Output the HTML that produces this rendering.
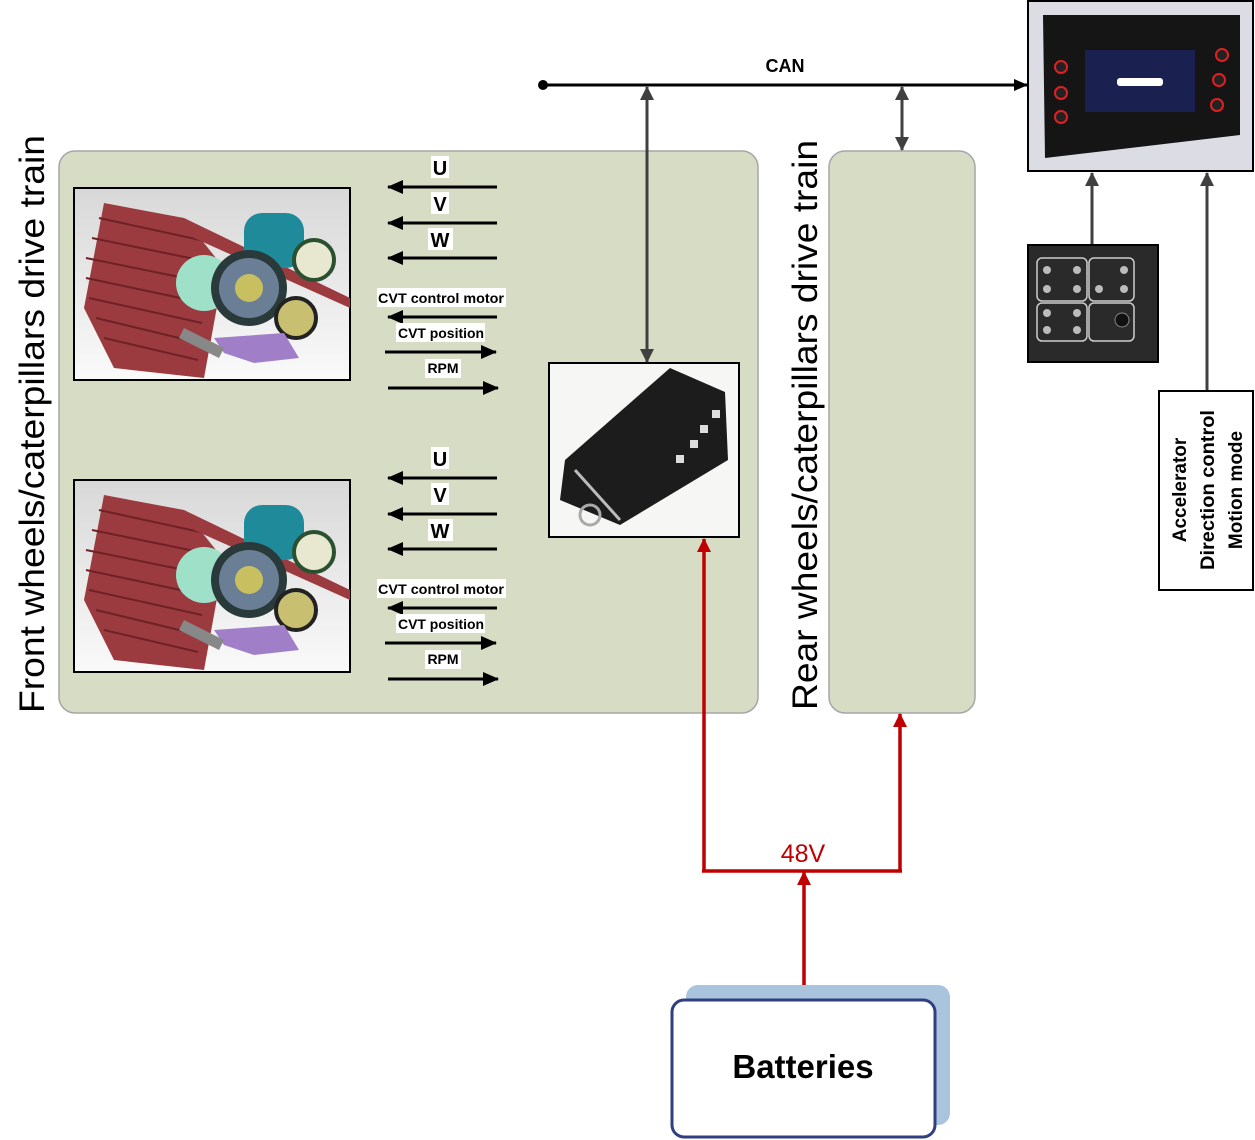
<!DOCTYPE html>
<html><head><meta charset="utf-8"><style>
html,body{margin:0;padding:0;background:#fff}
svg{display:block;font-family:"Liberation Sans",sans-serif}
</style></head><body>
<svg width="1255" height="1140" viewBox="0 0 1255 1140" xmlns="http://www.w3.org/2000/svg">
<defs>
<marker id="ab" markerWidth="14" markerHeight="12" refX="13" refY="6" orient="auto" markerUnits="userSpaceOnUse"><path d="M0,0 L14,6 L0,12 z" fill="#000"/></marker>
<marker id="ag" markerWidth="14" markerHeight="14" refX="13" refY="7" orient="auto-start-reverse" markerUnits="userSpaceOnUse"><path d="M0,0 L14,7 L0,14 z" fill="#404040"/></marker>
<marker id="ar" markerWidth="14" markerHeight="14" refX="13" refY="7" orient="auto" markerUnits="userSpaceOnUse"><path d="M0,0 L14,7 L0,14 z" fill="#c00000"/></marker>
<marker id="ak" markerWidth="16" markerHeight="14" refX="15" refY="7" orient="auto" markerUnits="userSpaceOnUse"><path d="M0,0 L16,7 L0,14 z" fill="#000"/></marker>
<linearGradient id="bg1" x1="0" y1="0" x2="0" y2="1"><stop offset="0" stop-color="#d8d8d8"/><stop offset="1" stop-color="#fafafa"/></linearGradient>
<g id="drive">
  <rect x="0" y="0" width="276" height="192" fill="url(#bg1)" stroke="#000" stroke-width="2"/>
  <path d="M30,15 L110,30 L150,80 L130,190 L40,180 L10,120 Z" fill="#9b3a3f"/>
  <g stroke="#6e2226" stroke-width="2">
    <line x1="25" y1="30" x2="140" y2="55"/><line x1="18" y1="50" x2="140" y2="75"/><line x1="12" y1="70" x2="135" y2="95"/><line x1="12" y1="90" x2="130" y2="115"/><line x1="15" y1="110" x2="128" y2="135"/><line x1="22" y1="130" x2="126" y2="155"/><line x1="30" y1="150" x2="124" y2="172"/>
  </g>
  <path d="M110,30 L276,110 L276,120 L120,50 Z" fill="#9b3a3f"/>
  <circle cx="130" cy="95" r="28" fill="#9fe0c8"/>
  <rect x="170" y="25" width="60" height="55" rx="18" fill="#1f8a9a"/>
  <circle cx="175" cy="100" r="38" fill="#2a3a3a"/>
  <circle cx="175" cy="100" r="30" fill="#6a7f95"/>
  <circle cx="175" cy="100" r="14" fill="#c8c060"/>
  <circle cx="240" cy="72" r="20" fill="#e8e8d0" stroke="#2a5030" stroke-width="4"/>
  <circle cx="222" cy="130" r="20" fill="#c8c070" stroke="#222" stroke-width="4"/>
  <path d="M140,150 L210,145 L225,170 L180,175 L150,165 Z" fill="#a07ec8"/>
  <path d="M110,140 L150,160 L145,170 L105,150 Z" fill="#888"/>
</g>
</defs>

<rect x="59" y="151" width="699" height="562" rx="16" fill="#d7dcc5" stroke="#a6a6a6" stroke-width="1.5"/>
<rect x="829" y="151" width="146" height="562" rx="16" fill="#d7dcc5" stroke="#a6a6a6" stroke-width="1.5"/>

<text transform="translate(44,424) rotate(-90)" font-size="35" text-anchor="middle" fill="#000" textLength="578" lengthAdjust="spacingAndGlyphs">Front wheels/caterpillars drive train</text>
<text transform="translate(817,425) rotate(-90)" font-size="35" text-anchor="middle" fill="#000" textLength="570" lengthAdjust="spacingAndGlyphs">Rear wheels/caterpillars drive train</text>

<use href="#drive" x="74" y="188"/>
<use href="#drive" x="74" y="480"/>

<g id="sig" font-weight="bold" text-anchor="middle">
  <rect x="431" y="156" width="18" height="22" fill="#fff"/><text x="440" y="175" font-size="20">U</text>
  <line x1="497" y1="187" x2="388" y2="187" stroke="#000" stroke-width="3" marker-end="url(#ak)"/>
  <rect x="431" y="192" width="18" height="22" fill="#fff"/><text x="440" y="211" font-size="20">V</text>
  <line x1="497" y1="223" x2="388" y2="223" stroke="#000" stroke-width="3" marker-end="url(#ak)"/>
  <rect x="428" y="228" width="25" height="22" fill="#fff"/><text x="440" y="247" font-size="20">W</text>
  <line x1="497" y1="258" x2="388" y2="258" stroke="#000" stroke-width="3" marker-end="url(#ak)"/>
  <rect x="377" y="288" width="129" height="19" fill="#fff"/><text x="441" y="303" font-size="14" textLength="126" lengthAdjust="spacingAndGlyphs">CVT control motor</text>
  <line x1="497" y1="317" x2="388" y2="317" stroke="#000" stroke-width="3" marker-end="url(#ak)"/>
  <rect x="396" y="323" width="89" height="19" fill="#fff"/><text x="441" y="338" font-size="14" textLength="86" lengthAdjust="spacingAndGlyphs">CVT position</text>
  <line x1="385" y1="352" x2="496" y2="352" stroke="#000" stroke-width="3" marker-end="url(#ak)"/>
  <rect x="425" y="359" width="36" height="19" fill="#fff"/><text x="443" y="373" font-size="14">RPM</text>
  <line x1="388" y1="388" x2="498" y2="388" stroke="#000" stroke-width="3" marker-end="url(#ak)"/>
</g>
<use href="#sig" x="0" y="291"/>

<rect x="549" y="363" width="190" height="174" fill="#f6f6f4" stroke="#000" stroke-width="2"/>
<path d="M565,460 L670,368 L725,392 L728,460 L620,525 L560,500 Z" fill="#1c1c1c"/>
<path d="M575,470 L620,520" stroke="#bbb" stroke-width="3"/>
<circle cx="590" cy="515" r="10" fill="none" stroke="#aaa" stroke-width="3"/>
<g fill="#ddd"><rect x="690" y="440" width="8" height="8"/><rect x="700" y="425" width="8" height="8"/><rect x="712" y="410" width="8" height="8"/><rect x="676" y="455" width="8" height="8"/></g>

<circle cx="543" cy="85" r="5" fill="#000"/>
<line x1="543" y1="85" x2="1027" y2="85" stroke="#000" stroke-width="3" marker-end="url(#ab)"/>
<text x="785" y="72" font-size="18" font-weight="bold" text-anchor="middle">CAN</text>
<line x1="647" y1="87" x2="647" y2="362" stroke="#404040" stroke-width="3" marker-start="url(#ag)" marker-end="url(#ag)"/>
<line x1="902" y1="87" x2="902" y2="150" stroke="#404040" stroke-width="3" marker-start="url(#ag)" marker-end="url(#ag)"/>

<rect x="1028" y="1" width="225" height="170" fill="#dcdce4" stroke="#000" stroke-width="2"/>
<path d="M1043,15 L1240,15 L1240,135 L1045,158 Z" fill="#151515"/>
<rect x="1085" y="50" width="110" height="62" fill="#1a2050"/>
<g fill="#222" stroke="#e02020" stroke-width="2"><circle cx="1061" cy="67" r="6"/><circle cx="1061" cy="93" r="6"/><circle cx="1061" cy="117" r="6"/><circle cx="1222" cy="55" r="6"/><circle cx="1219" cy="80" r="6"/><circle cx="1217" cy="105" r="6"/></g>
<rect x="1117" y="78" width="46" height="8" rx="3" fill="#fff"/>

<rect x="1028" y="245" width="130" height="117" fill="#2a2a2a" stroke="#000" stroke-width="2"/>
<g fill="none" stroke="#ccc" stroke-width="1.5"><rect x="1037" y="258" width="50" height="43" rx="5"/><rect x="1089" y="258" width="45" height="43" rx="5"/><rect x="1037" y="303" width="50" height="38" rx="5"/><rect x="1089" y="303" width="45" height="38" rx="5"/></g>
<g fill="#bbb"><circle cx="1047" cy="270" r="4"/><circle cx="1077" cy="270" r="4"/><circle cx="1047" cy="289" r="4"/><circle cx="1077" cy="289" r="4"/><circle cx="1124" cy="270" r="4"/><circle cx="1099" cy="289" r="4"/><circle cx="1124" cy="289" r="4"/><circle cx="1047" cy="313" r="4"/><circle cx="1077" cy="313" r="4"/><circle cx="1047" cy="330" r="4"/><circle cx="1077" cy="330" r="4"/></g>
<circle cx="1122" cy="320" r="7" fill="#111" stroke="#888"/>

<line x1="1092" y1="244" x2="1092" y2="173" stroke="#404040" stroke-width="3" marker-end="url(#ag)"/>
<line x1="1207" y1="391" x2="1207" y2="173" stroke="#404040" stroke-width="3" marker-end="url(#ag)"/>

<rect x="1159" y="391" width="94" height="199" fill="#fff" stroke="#000" stroke-width="2"/>
<g font-size="19" font-weight="bold" text-anchor="middle">
<text transform="translate(1186,490) rotate(-90)">Accelerator</text>
<text transform="translate(1214,490) rotate(-90)" textLength="160" lengthAdjust="spacingAndGlyphs">Direction control</text>
<text transform="translate(1242,490) rotate(-90)">Motion mode</text>
</g>

<polyline points="804,1000 804,872" fill="none" stroke="#c00000" stroke-width="3.5" marker-end="url(#ar)"/>
<polyline points="704,871 704,539" fill="none" stroke="#c00000" stroke-width="3.5" marker-end="url(#ar)"/>
<polyline points="900,871 900,714" fill="none" stroke="#c00000" stroke-width="3.5" marker-end="url(#ar)"/>
<line x1="702" y1="871" x2="902" y2="871" stroke="#c00000" stroke-width="3.5"/>
<text x="803" y="862" font-size="25" fill="#c00000" text-anchor="middle">48V</text>

<rect x="686" y="985" width="264" height="140" rx="12" fill="#a9c4dc"/>
<rect x="672" y="1000" width="263" height="137" rx="12" fill="#fff" stroke="#2f3f7f" stroke-width="3"/>
<text x="803" y="1078" font-size="33" font-weight="bold" text-anchor="middle">Batteries</text>
</svg>
</body></html>
